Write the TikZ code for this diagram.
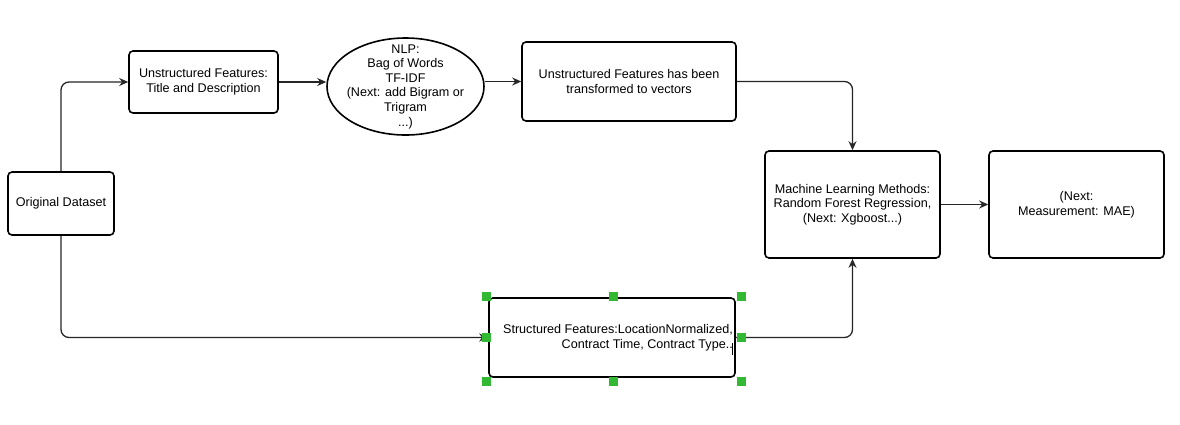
\documentclass[tikz,border=0pt]{standalone}
\usepackage{fontspec}
\setmainfont{Liberation Sans}
\usetikzlibrary{shapes.geometric,arrows.meta}
\begin{document}
\begin{tikzpicture}[x=1pt,y=-1pt,
  txt/.style={font=\fontsize{12.6}{14.6}\selectfont},
  box/.style={draw=black,line width=1.6pt,rounded corners=4pt,fill=white,inner sep=0pt,align=center,txt},
  conn/.style={draw=black!85,line width=1.3pt,rounded corners=8pt,-{Stealth[length=9pt,width=8pt]}},
  handle/.style={fill=green!65!black!80!white,draw=none,minimum size=9pt,inner sep=0pt}
]
\useasboundingbox (0,0) rectangle (1180,424);
\fill[white] (0,0) rectangle (1180,424);

\node[box,minimum width=106pt,minimum height=63pt] (orig) at (61,203.5) {Original Dataset};
\node[box,minimum width=149pt,minimum height=62pt] (unst) at (203.5,82) {Unstructured Features:\\Title and Description};
\node[draw=black,line width=1.6pt,ellipse,minimum width=157pt,minimum height=97pt,inner sep=0pt] (nlp) at (405.5,86.5) {};
\node[align=center,inner sep=0pt,txt] (nlptext) at (nlp.center) {NLP:\\Bag of Words\\TF-IDF\\(Next: add Bigram or\\Trigram\\...)};
\node[box,minimum width=214pt,minimum height=79pt] (vec) at (629,81.5) {Unstructured Features has been\\transformed to vectors};
\node[box,minimum width=175pt,minimum height=107pt] (ml) at (852.5,204.5) {Machine Learning Methods:\\Random Forest Regression,\\(Next: Xgboost...)};
\node[box,minimum width=175pt,minimum height=107pt] (mae) at (1076.5,204.5) {(Next:\\Measurement: MAE)};
\node[box,minimum width=246pt,minimum height=79pt] (str) at (612,337.5) {};
\node[anchor=east,align=right,inner sep=0pt,txt] (strtext) at (733,337.5) {Structured Features:LocationNormalized,\\Contract Time, Contract Type..};
\coordinate (cur1) at (732.5,343);
\coordinate (cur2) at (732.5,355);
\draw[line width=0.6pt] (cur1) -- (cur2);

\coordinate (c1) at (61,82);
\coordinate (c2) at (61,337.5);
\coordinate (c3) at (852.5,81.5);
\coordinate (c4) at (852.5,337.5);
\draw[conn] (orig.north) -- (c1) -- (unst.west);
\draw[conn] (orig.south) -- (c2) -- (str.west);
\draw[conn] (unst.east) -- (unst.east -| nlp.west);
\draw[conn] (nlp.east |- vec.west) -- (vec.west);
\draw[conn] (vec.east) -- (c3) -- (ml.north);
\draw[conn] (str.east) -- (c4) -- (ml.south);
\draw[conn] (ml.east) -- (mae.west);

\node[handle] (h1) at (486,296) {};
\node[handle] (h2) at (613,296) {};
\node[handle] (h3) at (741,296) {};
\node[handle] (h4) at (486,337.5) {};
\node[handle] (h5) at (741,337.5) {};
\node[handle] (h6) at (486,381) {};
\node[handle] (h7) at (613,381) {};
\node[handle] (h8) at (741,381) {};
\end{tikzpicture}
\end{document}
